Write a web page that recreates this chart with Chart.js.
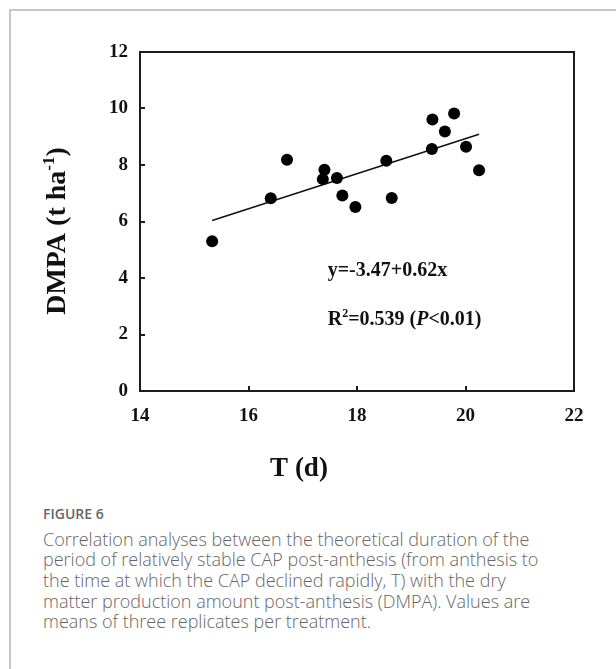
<!DOCTYPE html>
<html>
<head>
<meta charset="utf-8">
<script src="https://cdn.jsdelivr.net/npm/chart.js@4.4.1/dist/chart.umd.min.js"></script>
<style>
  html, body { margin: 0; padding: 0; background: #fff; }
  body { width: 616px; height: 669px; position: relative; overflow: hidden; }
  .frame { position: absolute; left: 9px; top: 9px; width: 700px; height: 700px;
           border-left: 2px solid #c6c6c6; border-top: 2px solid #c6c6c6; }
  #fig { position: absolute; left: 0; top: 0; }
  .caption { position: absolute; left: 43px; top: 504px; width: 510px;
             font-family: "Open Sans", sans-serif; color: #666; }
  .caption .label { font-size: 14px; font-weight: 600; color: #666; line-height: 20px; }
  .caption p { margin: 4.6px 0 0; font-size: 18px; font-weight: 300; line-height: 20.7px; }
</style>
</head>
<body>
<div class="frame"></div>
<canvas id="fig" width="616" height="500"></canvas>
<div class="caption">
  <div class="label">FIGURE 6</div>
  <p>Correlation analyses between the theoretical duration of the period of relatively stable CAP post-anthesis (from anthesis to the time at which the CAP declined rapidly, T) with the dry matter production amount post-anthesis (DMPA). Values are means of three replicates per treatment.</p>
</div>
<script>
// T (d) and DMPA (t ha-1) for each treatment
const tDays = [15.33, 16.41, 16.71, 17.37, 17.40, 17.63, 17.73, 17.97, 18.54, 18.64, 19.38, 19.39, 19.62, 19.79, 20.01, 20.25];
const dmpa  = [5.30, 6.82, 8.19, 7.50, 7.83, 7.54, 6.92, 6.51, 8.15, 6.83, 8.57, 9.61, 9.19, 9.82, 8.65, 7.81];

const xTickValues = [14, 16, 18, 20, 22];
const yTickValues = [0, 2, 4, 6, 8, 10, 12];

// linear fit
const fitIntercept = -3.47;
const fitSlope = 0.62;
const fitR2 = 0.539;

const SERIF = '"Liberation Serif", "Times New Roman", serif';
const INK = '#111';

const points = tDays.map((t, i) => ({ x: t, y: dmpa[i] }));
const tMin = Math.min(...tDays), tMax = Math.max(...tDays);
const fitLine = [tMin, tMax].map(t => ({ x: t, y: fitIntercept + fitSlope * t }));

function runsWidth(ctx, runs) {
  return runs.reduce((w, r) => { ctx.font = r.font; return w + ctx.measureText(r.text).width; }, 0);
}
function drawRuns(ctx, x, y, runs) {
  runs.forEach(r => {
    ctx.font = r.font;
    ctx.fillText(r.text, x, y + (r.dy || 0));
    x += ctx.measureText(r.text).width;
  });
}

const figureText = {
  id: 'figureText',
  afterDraw(chart) {
    const { ctx, chartArea: a, scales: { x, y } } = chart;
    ctx.save();

    // box round the plot
    ctx.strokeStyle = '#1c1c1c';
    ctx.lineWidth = 2;
    ctx.strokeRect(a.left, a.top, a.right - a.left, a.bottom - a.top);

    // inward tick marks
    ctx.beginPath();
    x.ticks.forEach(t => {
      if (t.value <= x.min || t.value >= x.max) return;
      const px = Math.round(x.getPixelForValue(t.value));
      ctx.moveTo(px, a.bottom); ctx.lineTo(px, a.bottom - 5);
    });
    y.ticks.forEach(t => {
      if (t.value <= y.min || t.value >= y.max) return;
      const py = Math.round(y.getPixelForValue(t.value));
      ctx.moveTo(a.left, py); ctx.lineTo(a.left + 5, py);
    });
    ctx.stroke();

    ctx.fillStyle = INK;
    ctx.textBaseline = 'alphabetic';
    ctx.textAlign = 'left';
    const b20 = 'bold 20px ' + SERIF;

    // regression equation and R2
    const ex = x.getPixelForValue(17.46);
    drawRuns(ctx, ex, y.getPixelForValue(4.32) + 7, [
      { text: 'y=' + fitIntercept.toFixed(2) + '+' + fitSlope.toFixed(2) + 'x', font: b20 }
    ]);
    drawRuns(ctx, ex, y.getPixelForValue(2.6) + 7, [
      { text: 'R', font: b20 },
      { text: '2', font: 'bold 12px ' + SERIF, dy: -8 },
      { text: '=' + fitR2.toFixed(3) + ' (', font: b20 },
      { text: 'P', font: 'italic bold 20px ' + SERIF },
      { text: '<0.01)', font: b20 }
    ]);

    // axis titles
    const xTitle = [{ text: 'T (d)', font: 'bold 27px ' + SERIF }];
    drawRuns(ctx, 299 - runsWidth(ctx, xTitle) / 2, 476, xTitle);

    const b28 = 'bold 28px ' + SERIF;
    const yTitle = [
      { text: 'DMPA (t ha', font: b28 },
      { text: '-1', font: 'bold 17px ' + SERIF, dy: -11 },
      { text: ')', font: b28 }
    ];
    ctx.translate(65, 231);
    ctx.rotate(-Math.PI / 2);
    drawRuns(ctx, -runsWidth(ctx, yTitle) / 2, 0, yTitle);
    ctx.restore();
  }
};

new Chart(document.getElementById('fig'), {
  type: 'scatter',
  data: {
    datasets: [{
      label: 'DMPA',
      data: points,
      backgroundColor: '#000',
      borderWidth: 0,
      pointRadius: 6,
      pointHoverRadius: 6
    }, {
      type: 'line',
      label: 'fit',
      data: fitLine,
      borderColor: INK,
      borderWidth: 1.6,
      pointRadius: 0,
      fill: false
    }]
  },
  options: {
    responsive: false,
    animation: false,
    events: [],
    layout: { padding: { left: 0, top: 52, right: 42, bottom: 0 } },
    plugins: { legend: { display: false }, tooltip: { enabled: false } },
    scales: {
      x: {
        type: 'linear',
        min: 14, max: 22,
        afterBuildTicks: s => { s.ticks = xTickValues.map(v => ({ value: v })); },
        afterFit: s => { s.height = 109; },
        grid: { display: false, drawTicks: false },
        border: { display: false },
        ticks: { color: INK, padding: 14, font: { family: SERIF, size: 19, weight: 'bold' } }
      },
      y: {
        min: 0, max: 12,
        afterBuildTicks: s => { s.ticks = yTickValues.map(v => ({ value: v })); },
        afterFit: s => { s.width = 140; },
        grid: { display: false, drawTicks: false },
        border: { display: false },
        ticks: { color: INK, padding: 12, font: { family: SERIF, size: 19, weight: 'bold' } }
      }
    }
  },
  plugins: [figureText]
});
</script>
</body>
</html>
